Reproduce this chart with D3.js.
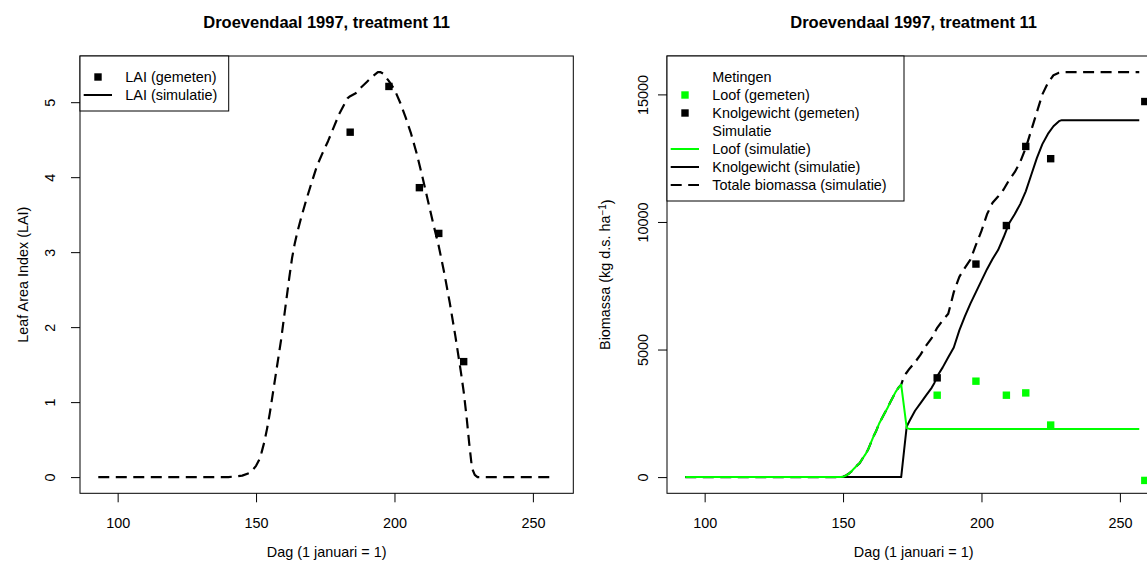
<!DOCTYPE html>
<html>
<head>
<meta charset="utf-8">
<script src="https://cdnjs.cloudflare.com/ajax/libs/d3/7.8.5/d3.min.js"></script>
<style>
body { margin: 0; background: #fff; }
text { font-family: "Liberation Sans", Arial, sans-serif; fill: #000; }
</style>
</head>
<body>
<div id="graf"></div>
<script>
// metingen
var meetDag = [184, 198, 209, 216, 225];
var laiGemeten = [4.60, 5.21, 3.86, 3.25, 1.54];
var biomDag = [184, 198, 209, 216, 225, 259];
var loofGemeten = [3210, 3760, 3210, 3300, 2040, -130];
var knolGemeten = [3890, 8350, 9860, 12960, 12480, 14720];

// simulatie LAI
var simDagLAI = [93, 100, 110, 120, 130, 140, 145, 148, 150, 151, 152, 153, 154, 155, 156, 157, 158, 159, 160,
  161, 162, 163, 164, 165, 166, 168, 170, 172, 174, 176, 178, 180, 182, 183, 184, 186, 188, 190, 192, 194,
  195, 196, 197, 198, 200, 202, 204, 206, 208, 210, 212, 214, 216, 218, 220, 222, 224, 225, 226, 227, 228,
  229, 230, 240, 250, 257];
var laiSim = [0, 0, 0, 0, 0, 0, 0.02, 0.06, 0.15, 0.22, 0.33, 0.47, 0.65, 0.86, 1.1, 1.34, 1.58, 1.82, 2.1,
  2.38, 2.66, 2.92, 3.12, 3.28, 3.42, 3.68, 3.92, 4.15, 4.32, 4.48, 4.66, 4.84, 4.98, 5.05, 5.08, 5.12, 5.2,
  5.27, 5.34, 5.4, 5.4, 5.38, 5.33, 5.28, 5.17, 5.0, 4.8, 4.58, 4.32, 4.02, 3.7, 3.38, 3.08, 2.72, 2.32, 1.88,
  1.4, 1.14, 0.82, 0.45, 0.12, 0.03, 0, 0, 0, 0];

// simulatie biomassa
var simDag = [93, 149, 150, 151, 152, 153, 154, 155, 156, 157, 158, 159, 160, 161, 162, 163, 164, 165, 166,
  167, 168, 169, 170, 171, 172, 173, 174, 176, 178, 180, 182, 183, 184, 186, 188, 190, 192, 194, 196, 198,
  200, 202, 204, 206, 208, 210, 212, 214, 216, 218, 220, 222, 224, 226, 228, 229, 240, 257];
var loofSim = [0, 0, 10, 60, 130, 220, 340, 450, 550, 720, 880, 1070, 1330, 1600, 1820, 2090, 2300, 2500, 2700,
  2920, 3130, 3340, 3500, 3620, 2770, 1920, 1890, 1890, 1890, 1890, 1890, 1890, 1890, 1890, 1890, 1890, 1890,
  1890, 1890, 1890, 1890, 1890, 1890, 1890, 1890, 1890, 1890, 1890, 1890, 1890, 1890, 1890, 1890, 1890, 1890,
  1890, 1890, 1890];
var knolSim = [0, 0, 0, 0, 0, 0, 0, 0, 0, 0, 0, 0, 0, 0, 0, 0, 0, 0, 0,
  0, 0, 0, 0, 0, 1000, 1985, 2200, 2600, 2900, 3200, 3500, 3690, 3950, 4300, 4700, 5080, 5750, 6300, 6800, 7250,
  7700, 8150, 8550, 8900, 9400, 9950, 10300, 10700, 11200, 11850, 12500, 13050, 13450, 13750, 13950, 13990,
  13990, 13990];
var totaalSim = [0, 0, 10, 60, 130, 220, 340, 450, 550, 720, 880, 1070, 1330, 1600, 1820, 2090, 2300, 2500, 2700,
  2920, 3130, 3340, 3500, 3620, 3950, 4100, 4250, 4500, 4800, 5150, 5450, 5650, 5850, 6150, 6400, 7250, 7850,
  8200, 8520, 9100, 9650, 10300, 10750, 11000, 11270, 11650, 11950, 12350, 12900, 13600, 14300, 15000, 15450,
  15750, 15850, 15870, 15870, 15870];

var xTicks = [100, 150, 200, 250];
var laiTicks = [0, 1, 2, 3, 4, 5];
var biomTicks = [0, 5000, 10000, 15000];

var titel = "Droevendaal 1997, treatment 11";
var xTitel = "Dag (1 januari = 1)";

var groen = "#00ff00";
var fs = 14.4;
var streep = "11,6.5";

var svg = d3.select("#graf").append("svg")
    .attr("width", 1147)
    .attr("height", 568);

// R-achtige 4% marge om het databereik
function rpad(a) { var d = (a[1] - a[0]) * 0.04; return [a[0] - d, a[1] + d]; }

var box = {l: 80, r: 573.3, t: 56, b: 493.3};
var x = d3.scaleLinear().domain(rpad([93, 258])).range([box.l, box.r]);
var yL = d3.scaleLinear().domain(rpad([0, 5.4])).range([box.b, box.t]);
var yR = d3.scaleLinear().domain(rpad([0, 15870])).range([box.b, box.t]);

function paneel(off, y, ticks, ylabOff) {
  var g = svg.append("g").attr("transform", "translate(" + off + ",0)");
  g.append("rect")
    .attr("x", box.l).attr("y", box.t)
    .attr("width", box.r - box.l).attr("height", box.b - box.t)
    .attr("fill", "none").attr("stroke", "#000").attr("stroke-width", 1);

  var ax = g.append("g").attr("transform", "translate(0," + box.b + ")")
    .call(d3.axisBottom(x).tickValues(xTicks).tickSize(9).tickPadding(15).tickFormat(d3.format("d")));
  ax.select(".domain").remove();
  ax.selectAll("text").style("font-size", fs + "px").style("font-family", null);

  var ay = g.append("g").attr("transform", "translate(" + box.l + ",0)")
    .call(d3.axisLeft(y).tickValues(ticks).tickSize(9).tickFormat(d3.format("d")));
  ay.select(".domain").remove();
  ay.selectAll("text")
    .attr("transform", "rotate(-90)")
    .attr("text-anchor", "middle")
    .attr("x", 0).attr("y", ylabOff).attr("dy", "0.36em")
    .style("font-size", fs + "px").style("font-family", null);

  g.append("text")
    .attr("x", (box.l + box.r) / 2).attr("y", 28)
    .attr("text-anchor", "middle")
    .style("font-size", "16.5px").style("font-weight", "bold")
    .text(titel);

  g.append("text")
    .attr("x", (box.l + box.r) / 2).attr("y", 557)
    .attr("text-anchor", "middle")
    .style("font-size", fs + "px")
    .text(xTitel);

  return g;
}

function lijn(g, xs, ys, y, kleur, dash) {
  var pts = xs.map(function(d, i) { return [d, ys[i]]; });
  g.append("path")
    .attr("d", d3.line().x(function(d) { return x(d[0]); }).y(function(d) { return y(d[1]); })(pts))
    .attr("fill", "none")
    .attr("stroke", kleur)
    .attr("stroke-width", dash ? 2.2 : 2)
    .attr("stroke-linejoin", "round")
    .attr("stroke-dasharray", dash ? streep : null);
}

function punten(g, xs, ys, y, kleur) {
  g.selectAll(null)
    .data(xs.map(function(d, i) { return [d, ys[i]]; }))
    .enter().append("rect")
    .attr("x", function(d) { return x(d[0]) - 3.7; })
    .attr("y", function(d) { return y(d[1]) - 3.7; })
    .attr("width", 7.4).attr("height", 7.4)
    .attr("fill", kleur);
}

function legenda(g, x0, y0, w, rijen) {
  g.append("rect")
    .attr("x", x0).attr("y", y0).attr("width", w).attr("height", rijen.length * 18 + 19)
    .attr("fill", "#fff").attr("stroke", "#000").attr("stroke-width", 1);
  rijen.forEach(function(r, i) {
    var cy = y0 + 21 + i * 18;
    if (r.type == "punt") {
      g.append("rect").attr("x", x0 + 14.3).attr("y", cy - 3.7)
        .attr("width", 7.4).attr("height", 7.4).attr("fill", r.kleur);
    } else if (r.type == "lijn") {
      g.append("line").attr("x1", x0 + 3.7).attr("x2", x0 + 32).attr("y1", cy).attr("y2", cy)
        .attr("stroke", r.kleur).attr("stroke-width", r.dash ? 2.2 : 2)
        .attr("stroke-dasharray", r.dash ? streep : null);
    }
    g.append("text")
      .attr("x", x0 + 45.3).attr("y", cy).attr("dy", "0.36em")
      .style("font-size", fs + "px")
      .text(r.tekst);
  });
}

// links: LAI
var pL = paneel(0, yL, laiTicks, -30);
pL.append("text")
  .attr("transform", "translate(23," + (box.t + box.b) / 2 + ") rotate(-90)")
  .attr("text-anchor", "middle").attr("dy", "0.36em")
  .style("font-size", fs + "px")
  .text("Leaf Area Index (LAI)");
lijn(pL, simDagLAI, laiSim, yL, "#000", true);
punten(pL, meetDag, laiGemeten, yL, "#000");
legenda(pL, box.l, box.t, 148.7, [
  {type: "punt", kleur: "#000", tekst: "LAI (gemeten)"},
  {type: "lijn", kleur: "#000", tekst: "LAI (simulatie)"}
]);

// rechts: biomassa
var pR = paneel(587, yR, biomTicks, -24);
var yt = pR.append("text")
  .attr("transform", "translate(18," + (box.t + box.b) / 2 + ") rotate(-90)")
  .attr("text-anchor", "middle").attr("dy", "0.36em")
  .style("font-size", fs + "px");
yt.append("tspan").text("Biomassa (kg d.s. ha");
yt.append("tspan").attr("dy", "-0.45em").style("font-size", "10px").text("\u22121");
yt.append("tspan").attr("dy", "0.45em").text(")");

lijn(pR, simDag, totaalSim, yR, "#000", true);
lijn(pR, simDag, knolSim, yR, "#000", false);
lijn(pR, simDag, loofSim, yR, groen, false);
punten(pR, biomDag, loofGemeten, yR, groen);
punten(pR, biomDag, knolGemeten, yR, "#000");
legenda(pR, box.l, box.t, 237, [
  {type: "kop", tekst: "Metingen"},
  {type: "punt", kleur: groen, tekst: "Loof (gemeten)"},
  {type: "punt", kleur: "#000", tekst: "Knolgewicht (gemeten)"},
  {type: "kop", tekst: "Simulatie"},
  {type: "lijn", kleur: groen, tekst: "Loof (simulatie)"},
  {type: "lijn", kleur: "#000", tekst: "Knolgewicht (simulatie)"},
  {type: "lijn", kleur: "#000", dash: true, tekst: "Totale biomassa (simulatie)"}
]);
</script>
</body>
</html>
